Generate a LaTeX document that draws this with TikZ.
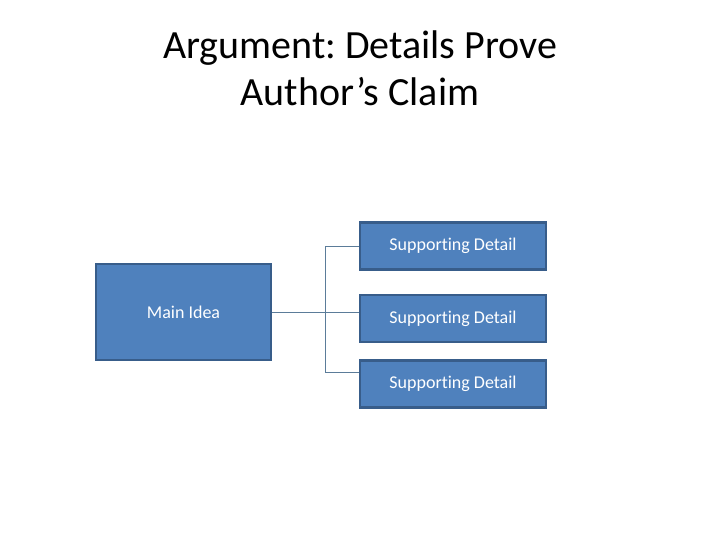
\documentclass[tikz,border=0pt]{standalone}
\usepackage{fontspec}
\setmainfont{Carlito}[Ligatures=NoCommon]
\frenchspacing
\usetikzlibrary{positioning,calc}
\definecolor{boxfill}{HTML}{4F81BD}
\definecolor{boxline}{HTML}{385D8A}
\definecolor{linkcol}{HTML}{5B7C99}
\begin{document}
\begin{tikzpicture}[
  x=1bp,y=1bp,
  node distance=23bp,
  box/.style={draw=boxline,line width=2.5bp,fill=boxfill,text=white,
    align=center,inner sep=0pt,font=\fontsize{18bp}{21bp}\selectfont},
  detailbox/.style={box,minimum width=186bp,minimum height=47bp},
  link/.style={draw=linkcol,line width=0.9bp}
]
\useasboundingbox (0,0) rectangle (720,540);
\node[align=center,font=\fontsize{40bp}{47bp}\selectfont] (title) at (360,472)
  {Argument: Details Prove\\Author’s Claim};
\node[box,minimum width=175bp,minimum height=96bp] (main) at (183.5,228) {Main Idea};
\node[detailbox] (det2) at (453,221.5) {Supporting Detail};
\node[detailbox,above=23bp of det2] (det1) {Supporting Detail};
\node[detailbox,below=16bp of det2] (det3) {Supporting Detail};
% elbow connectors
\coordinate (fork) at ($(main.east)+(53,0)$);
\draw[link] (main.east) -- (det2.west |- main.east);
\draw[link] (fork) |- (det1.west);
\draw[link] (fork) |- ([yshift=11.5bp]det3.west);
\end{tikzpicture}
\end{document}
